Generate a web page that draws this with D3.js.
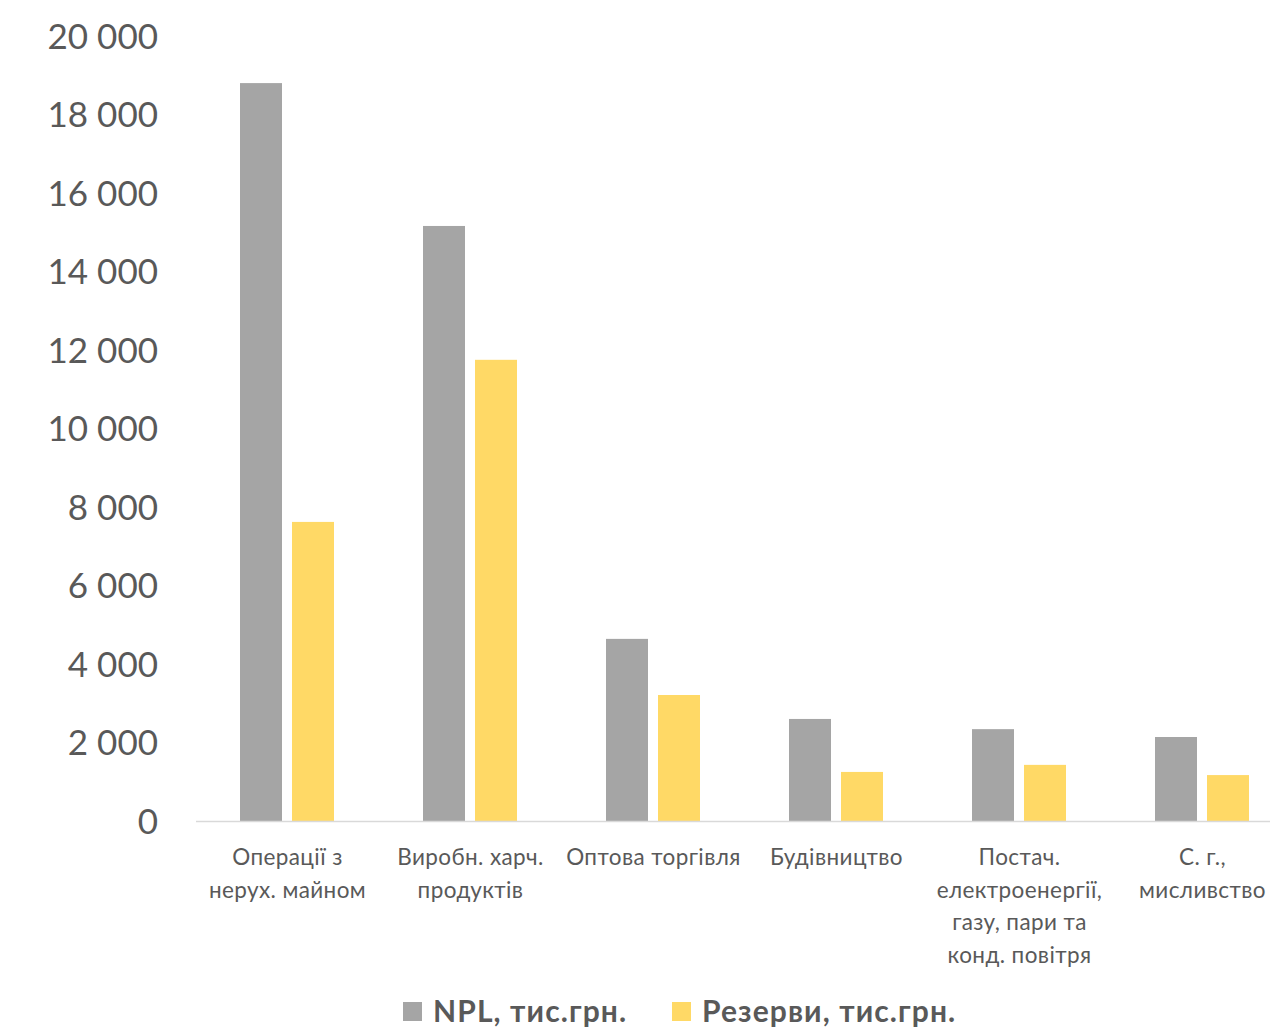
<!DOCTYPE html>
<html><head><meta charset="utf-8">
<script src="https://cdn.jsdelivr.net/npm/d3@7"></script>
<style>body{margin:0;background:#fff}</style>
</head><body>
<script>
const categories = [
  ["Операції з","нерух. майном"],
  ["Виробн. харч.","продуктів"],
  ["Оптова торгівля"],
  ["Будівництво"],
  ["Постач.","електроенергії,","газу, пари та","конд. повітря"],
  ["С. г.,","мисливство"]
];
const seriesNames = ["NPL, тис.грн.", "Резерви, тис.грн."];
const npl = [18800, 15160, 4640, 2600, 2340, 2140];
const reserves = [7620, 11750, 3210, 1250, 1430, 1170];
const yTicks = [0,2000,4000,6000,8000,10000,12000,14000,16000,18000,20000];
const colors = ["#A5A5A5", "#FFD966"];

(function(){
const W = 1270, H = 1027;
const left = 196, plotTop = 36, bottom = 821, step = 183;
const svg = d3.select("body").append("svg").attr("width", W).attr("height", H)
  .style("font-family", "Lato, 'Open Sans', sans-serif");

const idx = categories.map((d,i)=>i);
const x0 = d3.scaleBand().domain(idx).range([left, left + step*categories.length]).padding(0);
const x1 = d3.scaleBand().domain([0,1]).range([44, 138]).paddingInner(10/52);
const y = d3.scaleLinear().domain([0,20000]).range([bottom, plotTop]);

const fmt = v => d3.format(",")(v).replace(/,/g, " ");
const yAxis = d3.axisLeft(y).tickValues(yTicks).tickFormat(fmt).tickSize(0).tickPadding(0);
const gy = svg.append("g").attr("transform", `translate(158,0)`).call(yAxis);
gy.select(".domain").remove();
gy.selectAll("text").attr("fill", "#595959").style("font-size", "35px").style("font-family","Lato, sans-serif").attr("dy","0.35em");

const data = [npl, reserves];
const g = svg.append("g");
categories.forEach((c, i) => {
  data.forEach((s, k) => {
    g.append("rect")
      .attr("x", x0(i) + x1(k))
      .attr("y", y(s[i]))
      .attr("width", x1.bandwidth())
      .attr("height", y(0) - y(s[i]))
      .attr("fill", colors[k]);
  });
});

svg.append("line").attr("x1", left).attr("x2", W).attr("y1", bottom+0.5).attr("y2", bottom+0.5)
  .attr("stroke", "#D9D9D9").attr("stroke-width", 1.5);

categories.forEach((lines, i) => {
  const t = svg.append("text").attr("text-anchor", "middle").attr("fill", "#595959")
    .style("font-size", "22.5px").style("letter-spacing", "0.4px");
  lines.forEach((ln, j) => {
    t.append("tspan").attr("x", x0(i) + x0.bandwidth()/2).attr("y", 865 + j*32.7).text(ln);
  });
});

const legX = [403, 672];
seriesNames.forEach((n, k) => {
  svg.append("rect").attr("x", legX[k]).attr("y", 1002).attr("width", 19).attr("height", 19).attr("fill", colors[k]);
  svg.append("text").attr("x", legX[k] + 30).attr("y", 1022).attr("fill", "#595959")
    .style("font-size", "30px").style("font-weight", "bold").style("letter-spacing", "1.1px").text(n);
});
})();
</script>
</body></html>
